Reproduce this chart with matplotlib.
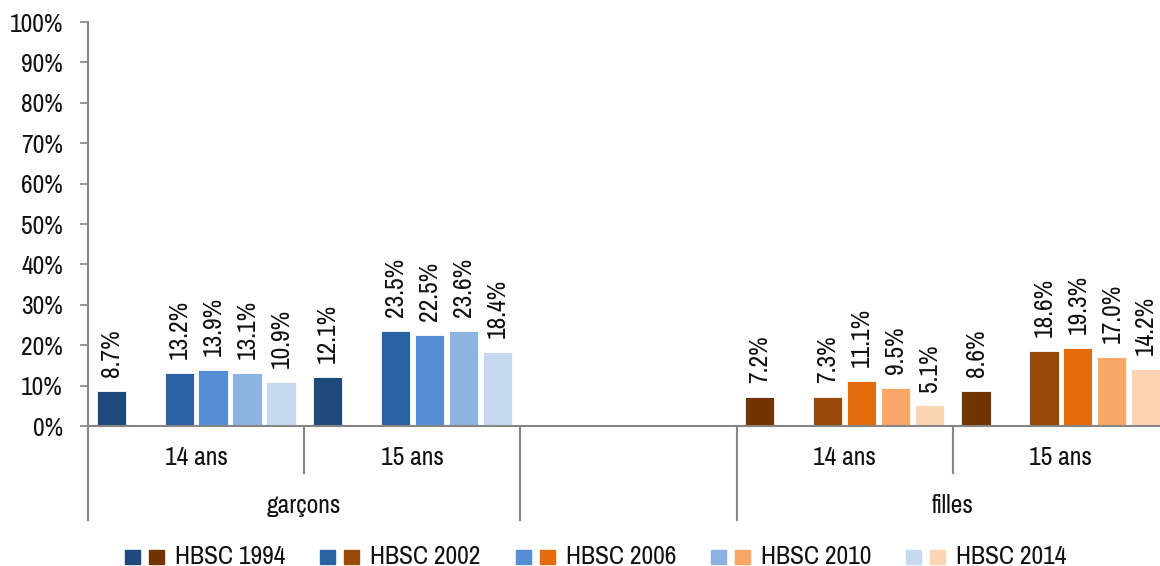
import matplotlib
matplotlib.use("Agg")
import matplotlib.pyplot as plt
from matplotlib.patches import Rectangle
from matplotlib.ticker import FuncFormatter
import numpy as np

# ────────────────────────────────────────────────
#  DONNÉES
# ────────────────────────────────────────────────

years = ["HBSC 1994", "HBSC 1998", "HBSC 2002", "HBSC 2006", "HBSC 2010", "HBSC 2014"]
legend_years = ["HBSC 1994", "HBSC 2002", "HBSC 2006", "HBSC 2010", "HBSC 2014"]

age_labels = ["14 ans", "15 ans", "", "14 ans", "15 ans"]
sex_labels = ["garçons", "filles"]

garcons_14 = [8.7, None, 13.2, 13.9, 13.1, 10.9]
garcons_15 = [12.1, None, 23.5, 22.5, 23.6, 18.4]
filles_14 = [7.2, None, 7.3, 11.1, 9.5, 5.1]
filles_15 = [8.6, None, 18.6, 19.3, 17.0, 14.2]

blues = ["#1f497d", "#1f497d", "#2a62a6", "#558ed5", "#8db3e2", "#c6d9f1"]
oranges = ["#713400", "#713400", "#984807", "#e46c0a", "#f9a766", "#fcd5b5"]

FONT = ["Pragati Narrow", "Archivo Narrow", "DejaVu Sans"]
FS = 20
plt.rcParams["font.family"] = FONT
plt.rcParams["font.size"] = FS

GREY = "#868686"
TXT = "#111111"

# ────────────────────────────────────────────────
#  FIGURE
# ────────────────────────────────────────────────

W, H = 1160, 566
fig = plt.figure(figsize=(W / 100, H / 100), dpi=100)
ax = fig.add_axes([88 / W, 1 - 426 / H, 1081 / W, 404 / H])

groups = [(0, garcons_14, blues), (1, garcons_15, blues),
          (3, filles_14, oranges), (4, filles_15, oranges)]

slot = 0.157
bar_w = 0.135
for cat, values, colors in groups:
    for j, v in enumerate(values):
        if v is None:
            continue
        x = cat + 0.5 + (j - 2.5) * slot
        ax.bar(x, v, width=bar_w, color=colors[j], edgecolor="white", linewidth=0.6)
        ax.annotate(f"{v:.1f}%", (x, v), xytext=(0, 10), textcoords="offset points",
                    rotation=90, ha="center", va="bottom", fontsize=FS, color=TXT)

ax.set_xlim(0, 5)
ax.set_ylim(0, 100)
ax.set_yticks(np.arange(0, 101, 10))
ax.yaxis.set_major_formatter(FuncFormatter(lambda v, p: f"{v:.0f}%"))
ax.tick_params(axis="y", length=6, width=1.2, color=GREY, pad=12, labelsize=FS, labelcolor=TXT)
ax.set_xticks([])

for s in ["top", "right"]:
    ax.spines[s].set_visible(False)
for s in ["left", "bottom"]:
    ax.spines[s].set_color(GREY)
    ax.spines[s].set_linewidth(1.5)

# séparateurs de catégories
trans = ax.get_xaxis_transform()
for xb, depth in [(0, -0.233), (1, -0.116), (2, -0.233), (3, -0.233), (4, -0.116)]:
    ax.plot([xb, xb], [0, depth], color=GREY, lw=1.5, transform=trans, clip_on=False)

for i, lab in enumerate(age_labels):
    if lab:
        ax.text(i + 0.5, -0.077, lab, transform=trans, ha="center", va="center", fontsize=FS, color=TXT)
ax.text(1.0, -0.196, sex_labels[0], transform=trans, ha="center", va="center", fontsize=FS, color=TXT)
ax.text(4.0, -0.196, sex_labels[1], transform=trans, ha="center", va="center", fontsize=FS, color=TXT)

# légende
leg_idx = [0, 2, 3, 4, 5]
for k, (lab, j) in enumerate(zip(legend_years, leg_idx)):
    x0 = 125 + k * 195.3
    fig.patches.append(Rectangle((x0 / W, 1 - 564 / H), 15 / W, 14 / H,
                                 transform=fig.transFigure, color=blues[j]))
    fig.patches.append(Rectangle(((x0 + 24) / W, 1 - 564 / H), 15 / W, 14 / H,
                                 transform=fig.transFigure, color=oranges[j]))
    fig.text((x0 + 50) / W, 1 - 557 / H, lab, ha="left", va="center", fontsize=FS, color=TXT)

fig.savefig("out.png", dpi=100)
